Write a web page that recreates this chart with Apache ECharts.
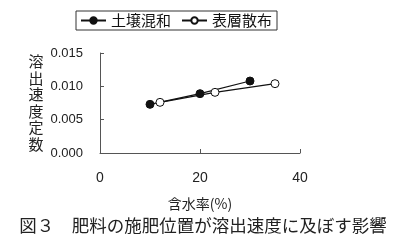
<!DOCTYPE html>
<html><head><meta charset="utf-8">
<script src="https://cdn.jsdelivr.net/npm/echarts@6/dist/echarts.min.js"></script>
<style>html,body{margin:0;padding:0;background:#fff}#c{width:406px;height:242px}</style>
</head><body><div id="c"></div>
<script>
const seriesNames = ['土壌混和', '表層散布'];
const soilX = [10, 20, 30];
const soilY = [0.0073, 0.0089, 0.0108];
const surfX = [12, 23, 35];
const surfY = [0.0076, 0.0091, 0.0104];
const yTicks = [0, 0.005, 0.010, 0.015];
const xTicks = [0, 20, 40];
const yName = '溶出速度定数';
const xName = '含水率(%)';
const caption = '図３　肥料の施肥位置が溶出速度に及ぼす影響';

const font = 'Arial, "Liberation Sans", "Noto Sans CJK JP", sans-serif';
const chart = echarts.init(document.getElementById('c'), null, {renderer: 'canvas'});
chart.setOption({
  animation: false,
  backgroundColor: '#fff',
  textStyle: {fontFamily: font, color: '#222'},
  title: {
    text: caption, left: 'center', top: 212,
    textStyle: {fontFamily: '"Noto Sans CJK JP"', fontSize: 17.5, fontWeight: 'normal', color: '#222'}
  },
  legend: {
    left: 76, top: 11, padding: [2, 5, 2, 4], itemGap: 10, itemWidth: 25, itemHeight: 8,
    borderColor: '#333', borderWidth: 1, backgroundColor: '#fff',
    textStyle: {fontSize: 15, color: '#111', fontFamily: '"Noto Sans CJK JP"'},
    data: seriesNames
  },
  grid: {left: 100, right: 106, top: 53, bottom: 89, containLabel: false},
  xAxis: {
    type: 'value', min: xTicks[0], max: xTicks[xTicks.length-1], interval: 20,
    name: xName, nameLocation: 'middle', nameGap: 44,
    nameTextStyle: {fontSize: 14, color: '#222', fontFamily: '"Noto Sans CJK JP"'},
    axisLine: {lineStyle: {color: '#555'}},
    axisTick: {inside: true, length: 4, lineStyle: {color: '#555'}},
    axisLabel: {fontSize: 14, color: '#222', margin: 18},
    splitLine: {show: false}
  },
  yAxis: {
    type: 'value', min: yTicks[0], max: yTicks[yTicks.length-1], interval: 0.005,
    name: yName.split('').join('\n'), nameLocation: 'middle', nameGap: 64, nameRotate: 0,
    nameTextStyle: {fontSize: 15, lineHeight: 16.5, color: '#222', align: 'center', verticalAlign: 'middle', fontFamily: '"Noto Sans CJK JP"'},
    axisLine: {show: true, lineStyle: {color: '#555'}},
    axisTick: {show: true, inside: true, length: 4, lineStyle: {color: '#555'}},
    axisLabel: {fontSize: 13, color: '#222', margin: 17, formatter: v => v.toFixed(3)},
    splitLine: {show: false}
  },
  series: [
    {name: seriesNames[0], type: 'line', data: soilX.map((x, i) => [x, soilY[i]]),
     symbol: 'circle', symbolSize: 8, lineStyle: {color: '#111', width: 1.2},
     itemStyle: {color: '#111', borderColor: '#111', borderWidth: 1}},
    {name: seriesNames[1], type: 'line', data: surfX.map((x, i) => [x, surfY[i]]),
     symbol: 'circle', symbolSize: 8, lineStyle: {color: '#111', width: 1.2},
     itemStyle: {color: '#fff', borderColor: '#111', borderWidth: 1}}
  ]
});
</script></body></html>
